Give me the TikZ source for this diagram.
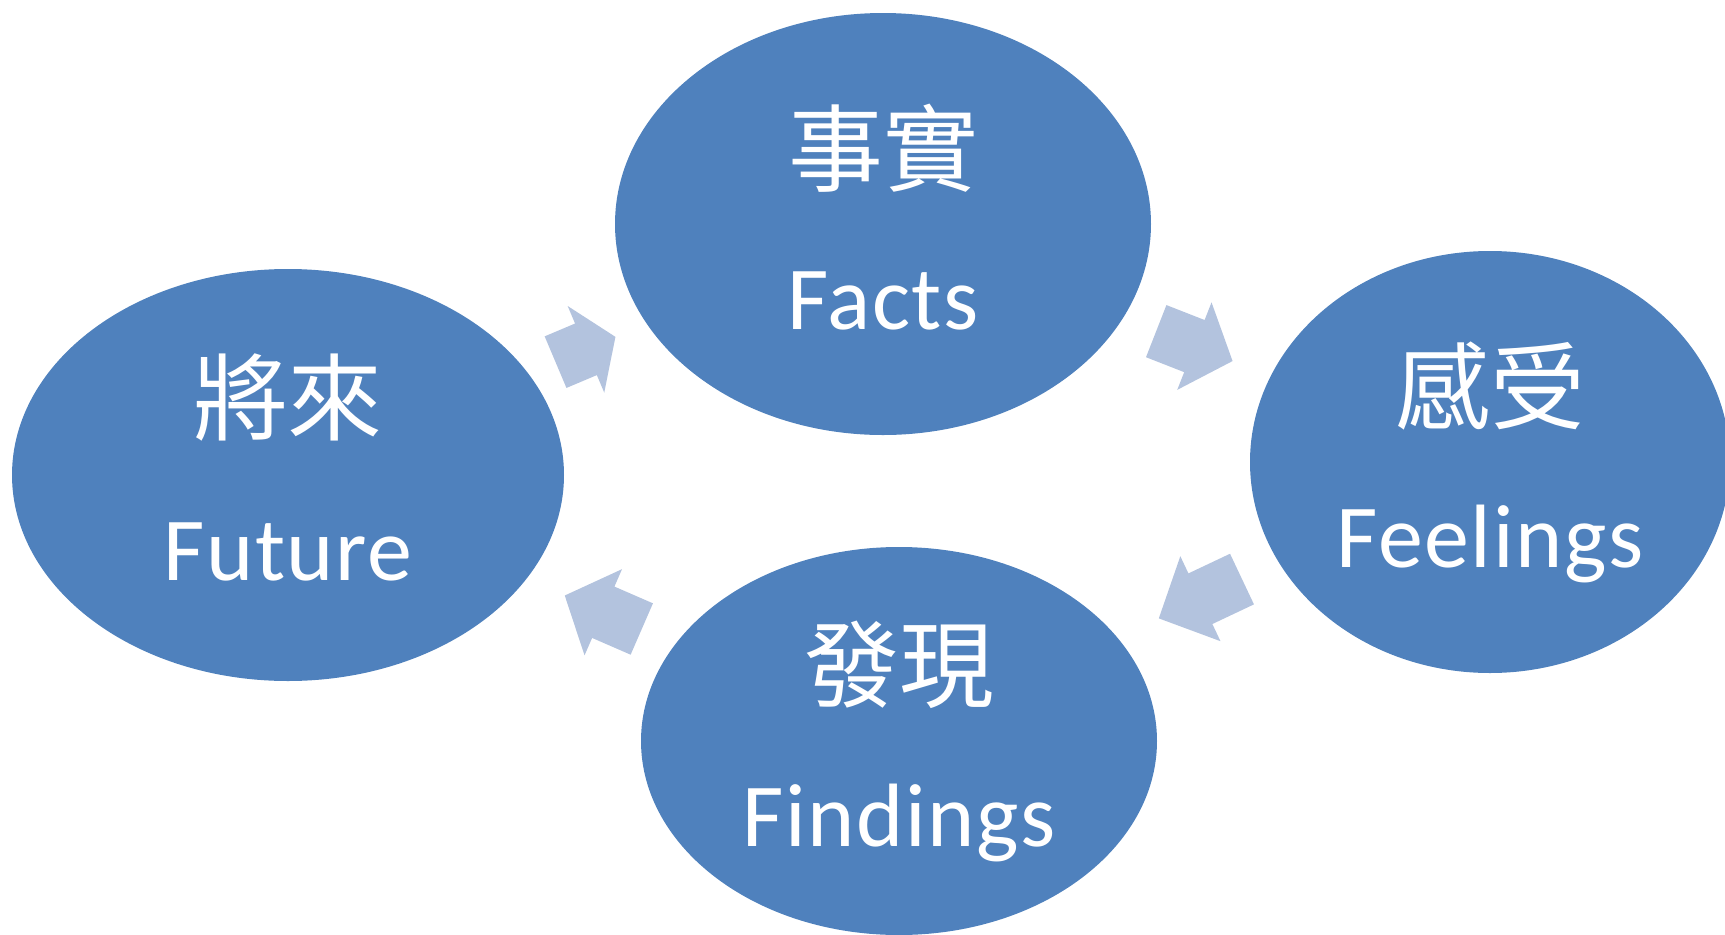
\documentclass[tikz,border=0pt]{standalone}
\usepackage{fontspec}
\setmainfont{Carlito}[LetterSpace=1.8]
\newfontfamily\cjk{Noto Sans CJK TC}
\usetikzlibrary{calc,shapes.geometric}
\definecolor{blobblue}{HTML}{4F81BD}
\definecolor{arrowblue}{HTML}{B3C3DE}
\tikzset{
  blob/.style={ellipse, fill=blobblue, inner sep=0pt},
  zhtext/.style={text=white, font=\cjk\fontsize{27}{27}\selectfont, inner sep=0pt},
  entext/.style={text=white, font=\fontsize{25.6}{26}\selectfont, inner sep=0pt, anchor=base},
  pics/cyclearrow/.style n args={2}{code={
    \fill[arrowblue] (-#1/2,-0.28) -- ({#1/2-#2},-0.28) -- ({#1/2-#2},-0.47) -- (#1/2,0)
      -- ({#1/2-#2},0.47) -- ({#1/2-#2},0.28) -- (-#1/2,0.28) -- cycle;
  }}
}

\begin{document}
\begin{tikzpicture}
    \useasboundingbox (0,0) rectangle (17.25,-9.35);
    \clip (0,0) rectangle (17.25,-9.35);
    % the four ellipses
    \node[blob, minimum width=5.36cm, minimum height=4.22cm] (facts) at (8.83,-2.24) {};
    \node[blob, minimum width=4.80cm, minimum height=4.22cm] (feelings) at (14.90,-4.62) {};
    \node[blob, minimum width=5.16cm, minimum height=3.88cm] (findings) at (8.99,-7.41) {};
    \node[blob, minimum width=5.52cm, minimum height=4.12cm] (future) at (2.88,-4.75) {};
    % labels
    \node[zhtext] (factszh) at ([yshift=0.76cm]facts.center) {事實};
    \node[entext] (factsen) at ([yshift=-1.05cm]facts.center) {Facts};
    \node[zhtext] (feelingszh) at ([yshift=0.76cm]feelings.center) {感受};
    \node[entext] (feelingsen) at ([yshift=-1.05cm]feelings.center) {Feelings};
    \node[zhtext] (findingszh) at ([yshift=0.76cm]findings.center) {發現};
    \node[entext] (findingsen) at ([yshift=-1.05cm]findings.center) {Findings};
    \node[zhtext] (futurezh) at ([yshift=0.78cm]future.center) {將來};
    \node[entext] (futureen) at ([yshift=-1.05cm]future.center) {Future};
    % arrows between them
    \pic[rotate=22.9] at ($(future)!0.5!(facts)$) {cyclearrow={0.65}{0.32}};
    \pic[rotate=-21.4] at ($(facts)!0.513!(feelings)$) {cyclearrow={0.82}{0.41}};
    \pic[rotate=205.3] at ($(feelings)!0.49!(findings)$) {cyclearrow={0.92}{0.46}};
    \pic[rotate=156.5] at ($(findings)!0.484!(future)$) {cyclearrow={0.84}{0.42}};
\end{tikzpicture}
\end{document}
